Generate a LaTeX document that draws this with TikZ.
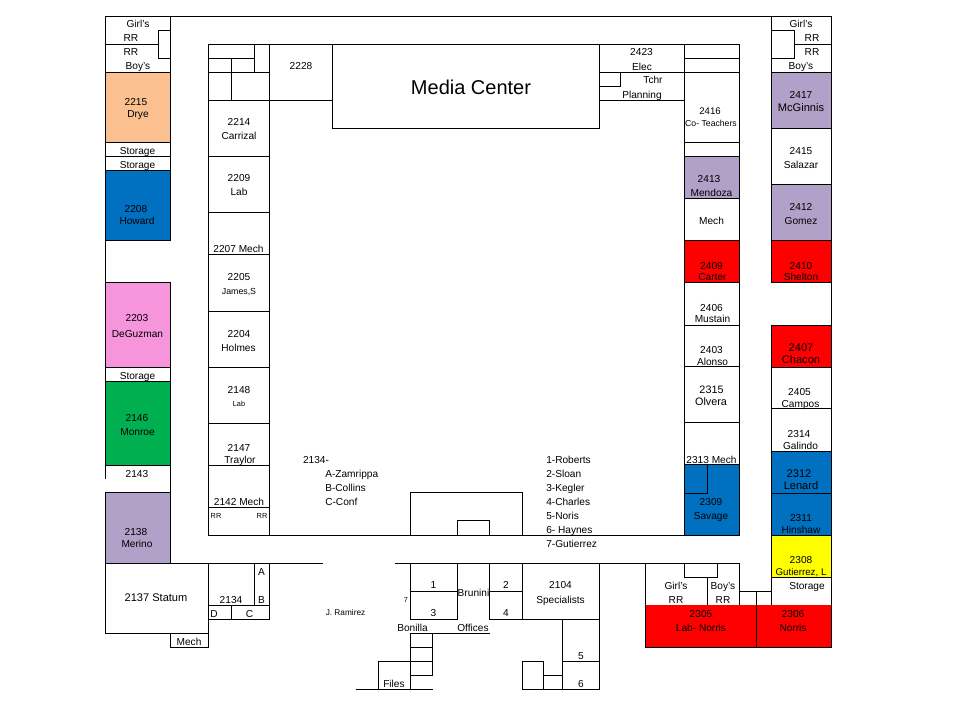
\documentclass[tikz,border=0pt]{standalone}
\usepackage{fontspec}
\setmainfont{Liberation Sans}
\definecolor{cpeach}{HTML}{FAC090}
\definecolor{cblue}{HTML}{0070C0}
\definecolor{cpink}{HTML}{F694DC}
\definecolor{cgreen}{HTML}{00B050}
\definecolor{cpurple}{HTML}{B1A0C7}
\definecolor{cred}{HTML}{FF0000}
\definecolor{cyell}{HTML}{FFFF00}
\tikzset{
  wall/.style={draw=black,line width=.72pt,line cap=rect},
  txt/.style={inner sep=0pt,text height=.72*\fs pt,text depth=0pt,font=\fontsize{\fs}{\fs}\selectfont},
}
\def\fs{7.6}
\newcommand{\lb}[3]{\node[txt] at (#1,#2) {#3};}
\newcommand{\lbs}[4]{{\def\fs{#1}\node[txt] at (#2,#3) {#4};}}
\newcommand{\lbl}[3]{\node[txt,anchor=west] at (#1,#2) {#3};}
\begin{document}
\begin{tikzpicture}[x=.75pt,y=-.75pt]
\useasboundingbox (0,0) rectangle (974,712);
% coloured rooms
\fill[cpeach] (105.7,72.7) rectangle (170.7,142);
\fill[cblue] (105.7,170) rectangle (170.7,240.7);
\fill[cpink] (105.7,282.7) rectangle (170.7,367);
\fill[cgreen] (105.7,381) rectangle (170.7,465);
\fill[cpurple] (105.7,492.7) rectangle (170.7,563.3);
\fill[cpurple] (771.7,72.7) rectangle (831.7,128.7);
\fill[cpurple] (771.7,184.7) rectangle (831.7,240.7);
\fill[cred] (771.7,240.7) rectangle (831.7,282.7);
\fill[cred] (771.7,325) rectangle (831.7,367);
\fill[cblue] (771.7,451) rectangle (831.7,535.3);
\fill[cyell] (771.7,535.3) rectangle (831.7,577);
\fill[cpurple] (684.3,156.7) rectangle (739.3,198.7);
\fill[cred] (684.3,240.7) rectangle (739.3,282.7);
\fill[cblue] (684.3,464.7) rectangle (739.3,535);
% outer walls
\draw[wall] (105.7,479) -- (105.7,16.3) -- (831.7,16.3) -- (831.7,647.3);
\draw[wall] (170.7,16.3) -- (170.7,240.7) (170.7,282.7) -- (170.7,563.3);
\draw[wall] (105.7,44.3) -- (158.3,44.3) (105.7,72.7) -- (170.7,72.7) (158.3,30.3) -- (170.7,30.3) -- (170.7,58.3) -- (158.3,58.3) -- cycle;
\foreach \y in {142,156.7,170,240.7,282.7,367,381,465} \draw[wall] (105.7,\y) -- (170.7,\y);
\draw[wall] (105.7,492.7) -- (105.7,633) (105.7,492.7) -- (170.7,492.7);
% lower left
\draw[wall] (105.7,563.3) -- (323,563.3);
\draw[wall] (105.7,633) -- (208.7,633) (208.7,563.3) -- (208.7,647) -- (170.3,647) -- (170.3,633);
\draw[wall] (269.7,563.3) -- (269.7,619) -- (208.7,619) (208.7,605) -- (269.7,605) (254,563.3) -- (254,605) (231,605) -- (231,619);
% inner ring
\draw[wall] (208.7,44.3) -- (739.3,44.3) -- (739.3,535) -- (208.7,535) -- cycle;
\draw[wall] (269.7,44.3) -- (269.7,535);
\draw[wall] (208.7,58.3) -- (254,58.3) (208.7,72.7) -- (269.7,72.7) (254,44.3) -- (254,72.7) (231,58.3) -- (231,100.7) (208.7,100.7) -- (332.7,100.7);
\draw[wall] (332.7,44.3) -- (332.7,128.7) -- (599.3,128.7) -- (599.3,44.3);
\foreach \y in {156.7,212.7,254,311,367,423,465,507} \draw[wall] (208.7,\y) -- (269.7,\y);
\draw[wall] (684.3,44.3) -- (684.3,535);
\draw[wall] (599.3,72.7) -- (739.3,72.7) (599.3,100.7) -- (684.3,100.7) (599.3,86.7) -- (620.7,86.7) -- (620.7,72.7);
\foreach \y in {58.3,142.3,156.7,198.7,240.7,282.7,325,366.7,422.7,464.7} \draw[wall] (684.3,\y) -- (739.3,\y);
\draw[wall] (684.3,493.3) -- (707,493.3) -- (707,464.7);
% right wing
\draw[wall] (771.7,16.3) -- (771.7,282.7) (771.7,325) -- (771.7,605);
\draw[wall] (794.3,44.3) -- (831.7,44.3) (771.7,30.3) -- (794.3,30.3) -- (794.3,58.3) -- (771.7,58.3);
\foreach \y in {72.7,128.7,184.7,240.7,282.7,325,367,408.7,451,493,535.3,577} \draw[wall] (771.7,\y) -- (831.7,\y);
% south bit
\draw[wall] (410.3,535) -- (410.3,492.7) -- (522.7,492.7) -- (522.7,535);
\draw[wall] (457.3,535) -- (457.3,520.7) -- (489.7,520.7) -- (489.7,535);
\draw[wall] (395,563.3) -- (739.3,563.3) -- (739.3,605);
\draw[wall] (410.3,563.3) -- (410.3,619) -- (457.3,619) -- (457.3,563.3) (410.3,591) -- (457.3,591);
\draw[wall] (489.7,563.3) -- (489.7,619) (522.7,563.3) -- (522.7,619) (489.7,591) -- (522.7,591) (489.7,619) -- (599.3,619);
\draw[wall] (599.3,563.3) -- (599.3,689) -- (522.3,689) -- (522.3,661) -- (543.3,661) -- (543.3,689) (562.3,619) -- (562.3,689) (562.3,661) -- (599.3,661) (543.3,675.3) -- (562.3,675.3);
\draw[wall] (410.3,633.3) -- (489.7,633.3) (410.3,633.3) -- (410.3,689) (432.7,633.3) -- (432.7,675.3) (410.3,647) -- (432.7,647) (378.3,661) -- (432.7,661) (410.3,675.3) -- (432.7,675.3) (378.3,661) -- (378.3,689) (356,689) -- (432.7,689);
% restrooms south
\draw[wall] (645.3,563.3) -- (645.3,605) (684.3,563.3) -- (684.3,577) -- (717.7,577) -- (717.7,563.3) (707,577) -- (707,605) (739.3,591) -- (771.7,591);
% red rooms along the south edge
\fill[cred] (645.3,605) rectangle (831.7,647.3);
\draw[wall] (645.3,605) -- (645.3,647.3) -- (831.7,647.3) -- (831.7,605) (756,591) -- (756,647.3);
% labels
\lb{138}{24}{Girl's}\lb{131}{38}{RR}\lb{131}{52}{RR}\lb{138}{66}{Boy's}
\lb{136}{102}{2215}\lb{138}{114}{Drye}
\lb{137.5}{150.5}{Storage}\lb{137.5}{164.5}{Storage}
\lb{136}{209}{2208}\lb{137}{220.5}{Howard}
\lb{301}{66}{2228}
\lb{239}{122}{2214}\lb{239}{136}{Carrizal}
\lb{239}{178}{2209}\lb{239}{192}{Lab}
\lb{238.5}{248.5}{2207 Mech}
\lb{239}{276.5}{2205}\lbs{6.6}{239}{291}{James,S}
\lb{239}{333.5}{2204}\lb{238.5}{347.5}{Holmes}
\lb{239}{389.5}{2148}\lbs{5.5}{239}{404}{Lab}
\lb{239}{447.5}{2147}\lb{240}{459.5}{Traylor}
\lb{239}{501.5}{2142 Mech}
\lbs{5.5}{216}{516}{RR}\lbs{5.5}{262}{516}{RR}
\lb{137}{318}{2203}\lb{137.5}{333.5}{DeGuzman}
\lb{137.5}{375.5}{Storage}
\lb{137}{417.5}{2146}\lb{137.5}{431.5}{Monroe}
\lb{137}{473.5}{2143}
\lb{136}{531.5}{2138}\lb{137}{543.5}{Merino}
\lbs{8.3}{156}{598}{2137 Statum}
\lb{231}{599.5}{2134}
\lb{261.5}{571.5}{A}\lb{261.5}{599.5}{B}\lb{214}{613.5}{D}\lb{249.5}{613.5}{C}
\lb{189}{641.5}{Mech}
\lb{316}{459.5}{2134-}
\lbl{325}{473.5}{A-Zamrippa}\lbl{325}{487.5}{B-Collins}\lbl{325}{501.5}{C-Conf}
\lbs{6.2}{345.5}{612.5}{J. Ramirez}
\lbl{546}{459.5}{1-Roberts}\lbl{546}{473.5}{2-Sloan}\lbl{546}{487.5}{3-Kegler}\lbl{546}{501.5}{4-Charles}\lbl{546}{515.5}{5-Noris}\lbl{546}{529.5}{6- Haynes}\lbl{546}{543.5}{7-Gutierrez}
\lb{433.5}{585}{1}\lbs{5.5}{406}{600}{7}\lb{433.5}{613}{3}
\lb{473.5}{592.5}{Brunini}
\lb{506}{585}{2}\lb{506}{613}{4}
\lb{560.5}{585}{2104}\lb{560.5}{599.5}{Specialists}
\lb{412.5}{627.5}{Bonilla}\lb{473}{627.5}{Offices}
\lb{581}{656}{5}\lb{581}{684}{6}\lb{394}{683.5}{Files}
\lbs{15}{471}{87}{Media Center}
\lb{641.5}{52}{2423}\lb{642}{66.5}{Elec}\lb{653}{80}{Tchr}\lb{642}{94.5}{Planning}
\lbs{7.2}{710}{111}{2416}\lbs{6.5}{711}{123}{Co- Teachers}
\lb{709}{179}{2413}\lb{711.5}{192.5}{Mendoza}\lb{711.5}{220.5}{Mech}
\lb{711.5}{265.5}{2409}\lb{712.5}{276.5}{Carter}
\lb{711.5}{307.5}{2406}\lb{712.5}{318.5}{Mustain}
\lb{711.5}{349.5}{2403}\lb{712.5}{361.5}{Alonso}
\lbs{8.1}{711.5}{389.5}{2315}\lbs{8.1}{711}{402}{Olvera}
\lb{711.5}{459.5}{2313 Mech}
\lb{711}{501.5}{2309}\lb{711}{515.5}{Savage}
\lb{801}{24}{Girl's}\lb{812}{38}{RR}\lb{812}{52}{RR}\lb{801}{66}{Boy's}
\lb{801}{94.5}{2417}\lbs{8.3}{801}{108}{McGinnis}
\lb{801}{150.5}{2415}\lb{801}{164.5}{Salazar}
\lb{801}{206.5}{2412}\lb{801}{220.5}{Gomez}
\lb{801}{265.5}{2410}\lb{801}{276.5}{Shelton}
\lbs{8.3}{801}{348}{2407}\lbs{8.3}{801}{360}{Chacon}
\lb{799.5}{391.5}{2405}\lb{800.5}{404}{Campos}
\lb{799}{433.5}{2314}\lb{800.5}{445.5}{Galindo}
\lbs{8.3}{799}{474}{2312}\lbs{8.3}{801}{486}{Lenard}
\lb{801}{517.5}{2311}\lb{801}{529.5}{Hinshaw}
\lb{801}{559.5}{2308}\lbs{7.3}{801}{571.5}{Gutierrez, L}
\lb{807}{585.5}{Storage}
\lb{676}{585.5}{Girl's}\lb{676}{599.5}{RR}
\lb{723}{585.5}{Boy's}\lb{723}{599.5}{RR}
\lb{701}{613.5}{2305}\lb{701}{627.5}{Lab- Norris}
\lb{793}{613.5}{2306}\lb{793}{627.5}{Norris}
\end{tikzpicture}
\end{document}
